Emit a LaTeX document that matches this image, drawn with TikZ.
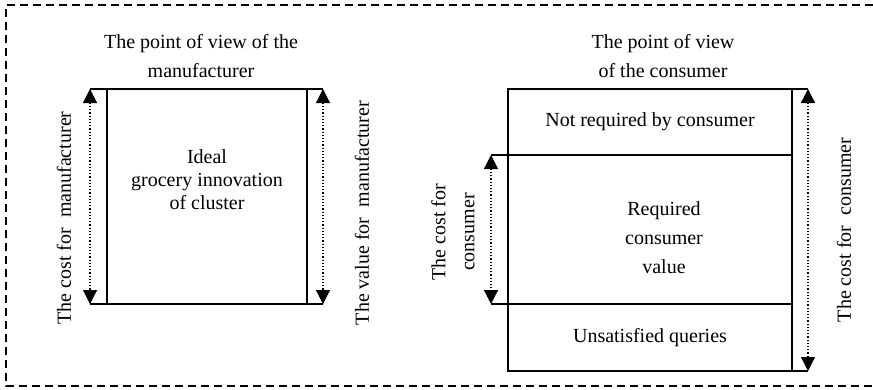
\documentclass[tikz,border=0pt]{standalone}
\usepackage{fontspec}
\setmainfont{Liberation Serif}
\usetikzlibrary{arrows.meta,positioning}

\begin{document}
\begin{tikzpicture}[x=1pt, y=-1pt, font=\fontsize{20}{29}\selectfont,
  box/.style={draw, line width=1.3pt, inner sep=0pt, outer sep=0pt},
  ext/.style={line width=1.3pt},
  span/.style={{Triangle[length=14pt,width=14pt]}-{Triangle[length=14pt,width=14pt]}, dotted, line width=1.2pt},
  side/.style={rotate=90, align=center},
  frame/.style={line width=1.3pt, dash pattern=on 8pt off 5pt}]
\useasboundingbox (0,0) rectangle (873,389);
\draw[frame] (873,5) -| (6,386) -- (873,386);

% manufacturer side
\node[align=center] (mview) at (201,56) {The point of view of the\\manufacturer};
\node[box, minimum width=200pt, minimum height=215pt] (ideal) at (207,196.5) {};
\node[align=center, font=\fontsize{20}{23}\selectfont] (idealtxt) at (207,180) {Ideal\\grocery innovation\\of cluster};
\coordinate (cmt) at (90,89);  \coordinate (cmb) at (90,304);
\coordinate (vmt) at (323,89); \coordinate (vmb) at (323,304);
\draw[ext] (cmt) -- (vmt); \draw[ext] (cmb) -- (vmb);
\draw[span] (cmt) -- (cmb); \draw[span] (vmt) -- (vmb);
\node[side] (costm) at (64,218) {The cost for~ manufacturer};
\node[side] (valm) at (362,213) {The value for~ manufacturer};

% consumer side
\node[align=center] (cview) at (663,56) {The point of view\\of the consumer};
\node[box, minimum width=284pt, minimum height=66pt] (notreq) at (650,122) {Not required by consumer};
\node[box, minimum width=284pt, minimum height=149pt, below=0pt of notreq] (reqval) {};
\node[box, minimum width=284pt, minimum height=67pt, below=0pt of reqval] (unsat) {Unsatisfied queries};
\node[align=center] (reqtxt) at (664,238) {Required\\consumer\\value};
\coordinate (crt) at (491,155); \coordinate (crb) at (491,304);
\coordinate (ctt) at (808,89);  \coordinate (ctb) at (808,371);
\draw[ext] (reqval.north west) -- (crt); \draw[ext] (reqval.south west) -- (crb);
\draw[ext] (notreq.north east) -- (ctt); \draw[ext] (unsat.south east) -- (ctb);
\draw[span] (crt) -- (crb); \draw[span] (ctt) -- (ctb);
\node[side] (costcr) at (453,232) {The cost for\\consumer};
\node[side] (costc) at (844,230) {The cost for~ consumer};
\end{tikzpicture}
\end{document}
